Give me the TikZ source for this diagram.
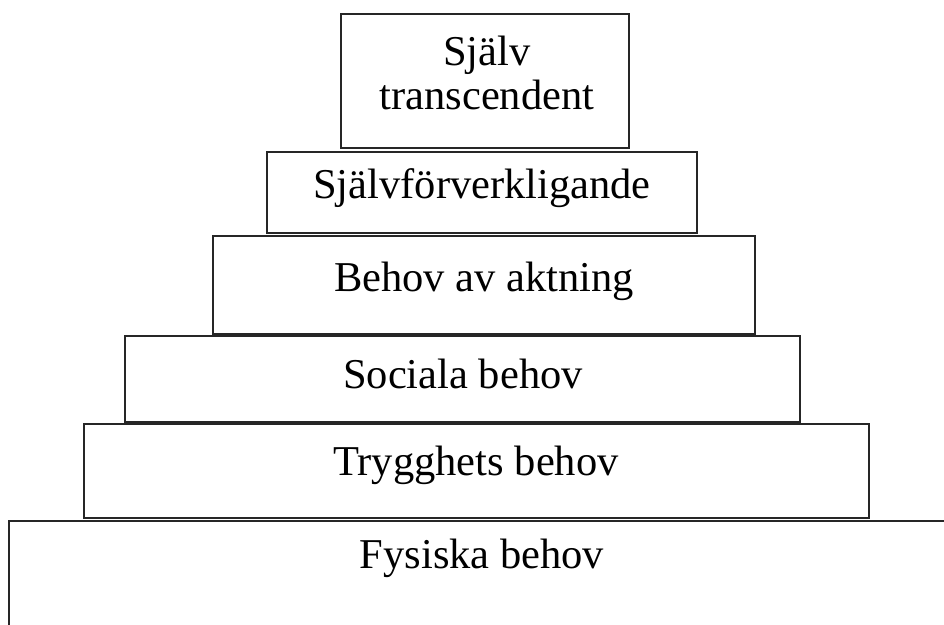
\documentclass[tikz,border=0pt]{standalone}
\usepackage{fontspec}
\setmainfont{Liberation Serif}
\begin{document}
\begin{tikzpicture}[x=1pt,y=-1pt,
  lvl/.style={draw=black!85,line width=1.6pt,fill=white},
  lbl/.style={anchor=base,inner sep=0pt,font=\fontsize{42.5}{48}\selectfont}]
\useasboundingbox (0,0) rectangle (944,624);
\begin{scope}
\clip (0,0) rectangle (944,624);
\draw[lvl] (9,521) rectangle (960,640);
\end{scope}
\draw[lvl] (84,424) rectangle (869,518);
\draw[lvl] (125,336) rectangle (800,422);
\draw[lvl] (213,236) rectangle (755,334);
\draw[lvl] (267,152) rectangle (697,233);
\draw[lvl] (341,14) rectangle (629,148);
\node[lbl] (t1a) at (487,65) {Själv};
\node[lbl] (t1b) at (487,109) {transcendent};
\node[lbl] (t2) at (482,198) {Självförverkligande};
\node[lbl] (t3) at (484,291) {Behov av aktning};
\node[lbl] (t4) at (463,388) {Sociala behov};
\node[lbl] (t5) at (476,475) {Trygghets behov};
\node[lbl] (t6) at (482,568) {Fysiska behov};
\end{tikzpicture}
\end{document}
